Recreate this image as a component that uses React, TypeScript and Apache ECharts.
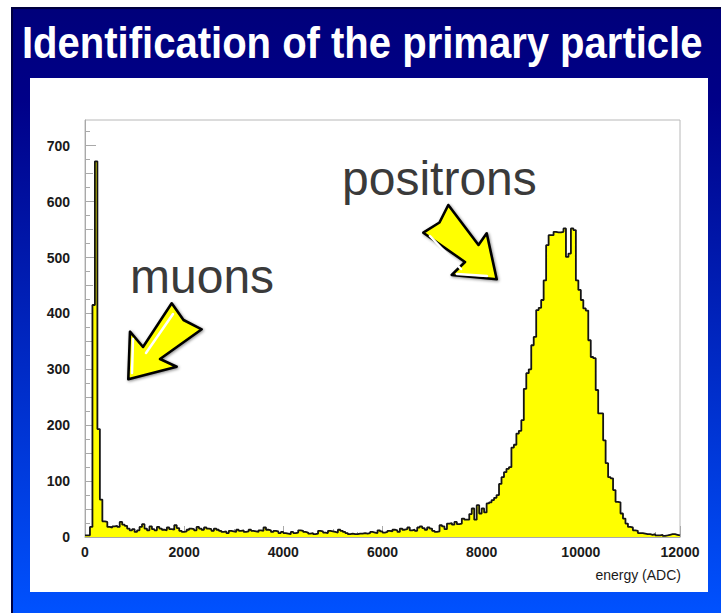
import React, { useEffect, useRef } from "react";
import * as echarts from "echarts";

// ---------------- data ----------------
const binWidth = 50; // ADC per bin
const counts: number[] = [
  3, 3, 18, 415, 672, 193, 67, 28, 27, 18, 17, 19, 20, 18, 27, 22, 20, 15, 12, 14,
  9, 12, 18, 23, 15, 12, 19, 14, 12, 18, 15, 13, 12, 17, 14, 13, 21, 16, 11, 9,
  10, 13, 15, 14, 12, 18, 15, 13, 17, 15, 14, 11, 15, 13, 11, 9, 10, 7, 11, 10,
  9, 13, 11, 12, 9, 10, 13, 11, 10, 9, 12, 11, 17, 13, 12, 9, 11, 10, 7, 9,
  7, 6, 5, 9, 7, 8, 12, 11, 9, 8, 6, 7, 5, 6, 11, 10, 8, 7, 11, 10,
  9, 8, 13, 11, 9, 7, 5, 6, 5, 5, 6, 6, 7, 6, 7, 9, 8, 7, 12, 10,
  8, 9, 11, 10, 13, 12, 9, 15, 13, 14, 17, 12, 13, 11, 17, 19, 16, 13, 17, 15,
  11, 9, 10, 21, 19, 14, 24, 25, 22, 27, 23, 24, 33, 31, 31, 41, 51, 31, 57, 42,
  51, 44, 60, 62, 66, 70, 75, 95, 107, 116, 122, 125, 160, 165, 185, 190, 209, 265, 293, 300,
  343, 358, 406, 410, 424, 459, 522, 540, 540, 546, 545, 545, 546, 552, 501, 507, 552, 549, 459, 442,
  424, 409, 405, 352, 322, 320, 263, 221, 221, 173, 132, 107, 105, 84, 63, 62, 42, 33, 24, 18,
  17, 12, 11, 7, 7, 6, 5, 5, 4, 5, 3, 3, 4, 2, 3, 4, 5, 5, 4, 3,
];

const xMin = 0;
const xMax = 12000;
const yMin = 0;
const yMax = 746;
const xMajorStep = 2000;
const xMidStep = 1000;
const xMinorStep = 500;
const yMajorTicks = [0, 100, 200, 300, 400, 500, 600, 700];
const yMidTicks = [50, 150, 250, 350, 450, 550, 650];
const yMinorTicks = [25, 75, 125, 175, 225, 275, 325, 375, 425, 475, 525, 575, 625, 675, 725];

const titleText = "Identification of the primary particle";
const xAxisTitle = "energy (ADC)";
const muonLabel = "muons";
const positronLabel = "positrons";

const FONT = '"Liberation Sans", Arial, Helvetica, sans-serif';
const TICK_COLOR = "#a9a9a9";

export default function App() {
  const ref = useRef<HTMLDivElement>(null);

  useEffect(() => {
    document.body.style.margin = "0";
    if (!ref.current) return;
    const chart = echarts.init(ref.current, undefined, { renderer: "svg" });

    const histData: number[][] = counts.map((v, i) => [i * binWidth, v]);
    histData.push([counts.length * binWidth, counts[counts.length - 1]]);

    const tickLabelStyle = {
      fontFamily: FONT,
      fontWeight: "bold" as const,
      fontSize: 14,
      color: "#1a1a1a",
      formatter: (v: number) => String(v),
    };

    const arrowStyle = {
      fill: "#ffff00",
      stroke: "#000",
      lineWidth: 2.6,
      lineJoin: "round",
      shadowBlur: 3,
      shadowColor: "rgba(0,0,0,0.45)",
      shadowOffsetX: 1,
      shadowOffsetY: 1,
    };
    const highlightStyle = { stroke: "#ffffff", lineWidth: 2.5, lineCap: "round", fill: null };

    const xAxisBase = {
      type: "value" as const,
      gridIndex: 0,
      min: xMin,
      max: xMax,
      position: "bottom" as const,
      splitLine: { show: false },
    };
    const yAxisBase = {
      type: "value" as const,
      gridIndex: 0,
      min: yMin,
      max: yMax,
      position: "left" as const,
      splitLine: { show: false },
    };

    chart.setOption({
      animation: false,
      backgroundColor: "#ffffff",
      grid: {
        left: 85,
        top: 120,
        right: 41,
        bottom: 76,
        show: true,
        borderColor: "#b8b8b8",
        borderWidth: 1,
        backgroundColor: "transparent",
      },
      xAxis: [
        {
          ...xAxisBase,
          interval: xMajorStep,
          axisLine: { show: true, lineStyle: { color: TICK_COLOR, width: 1 } },
          axisTick: { show: true, inside: true, length: 11, lineStyle: { color: TICK_COLOR } },
          axisLabel: { ...tickLabelStyle, margin: 8 },
        },
        {
          ...xAxisBase,
          interval: xMidStep,
          axisLine: { show: false },
          axisTick: { show: true, inside: true, length: 8, lineStyle: { color: TICK_COLOR } },
          axisLabel: { show: false },
        },
        {
          ...xAxisBase,
          interval: xMinorStep,
          axisLine: { show: false },
          axisTick: { show: true, inside: true, length: 5, lineStyle: { color: TICK_COLOR } },
          axisLabel: { show: false },
        },
      ],
      yAxis: [
        {
          ...yAxisBase,
          axisLine: { show: true, lineStyle: { color: TICK_COLOR, width: 1 } },
          axisTick: {
            show: true,
            inside: true,
            length: 11,
            customValues: yMajorTicks,
            lineStyle: { color: TICK_COLOR },
          },
          axisLabel: { ...tickLabelStyle, margin: 15, customValues: yMajorTicks },
        },
        {
          ...yAxisBase,
          axisLine: { show: false },
          axisTick: {
            show: true,
            inside: true,
            length: 8,
            customValues: yMidTicks,
            lineStyle: { color: TICK_COLOR },
          },
          axisLabel: { show: false },
        },
        {
          ...yAxisBase,
          axisLine: { show: false },
          axisTick: {
            show: true,
            inside: true,
            length: 5,
            customValues: yMinorTicks,
            lineStyle: { color: TICK_COLOR },
          },
          axisLabel: { show: false },
        },
      ],
      series: [
        {
          type: "line",
          xAxisIndex: 0,
          yAxisIndex: 0,
          data: histData,
          step: "end",
          symbol: "none",
          lineStyle: { color: "#151515", width: 1.8 },
          areaStyle: { color: "#ffff00", opacity: 1 },
          z: 3,
        },
      ],
      graphic: [
        {
          type: "rect",
          z: -20,
          silent: true,
          shape: { x: 12, y: 8, width: 712, height: 608 },
          style: {
            fill: new echarts.graphic.LinearGradient(0, 0, 0, 1, [
              { offset: 0, color: "#00007a" },
              { offset: 0.15, color: "#000088" },
              { offset: 1, color: "#0052ff" },
            ]),
            stroke: "#000040",
            lineWidth: 2,
          },
        },
        {
          type: "rect",
          z: -19,
          silent: true,
          shape: { x: 30, y: 78, width: 678, height: 514 },
          style: { fill: "#ffffff" },
        },
        {
          type: "text",
          z: 50,
          x: 22,
          y: 43,
          scaleX: 0.91,
          style: {
            text: titleText,
            fill: "#ffffff",
            font: `bold 44px ${FONT}`,
            textAlign: "left",
            textVerticalAlign: "middle",
          },
        },
        {
          type: "text",
          z: 50,
          x: 130,
          y: 276,
          style: {
            text: muonLabel,
            fill: "#3a3a3a",
            font: `48px ${FONT}`,
            textAlign: "left",
            textVerticalAlign: "middle",
          },
        },
        {
          type: "text",
          z: 50,
          x: 342,
          y: 178,
          style: {
            text: positronLabel,
            fill: "#3a3a3a",
            font: `48px ${FONT}`,
            textAlign: "left",
            textVerticalAlign: "middle",
          },
        },
        {
          type: "text",
          z: 50,
          x: 681,
          y: 575,
          style: {
            text: xAxisTitle,
            fill: "#1a1a1a",
            font: `14px ${FONT}`,
            textAlign: "right",
            textVerticalAlign: "middle",
          },
        },
        {
          type: "polygon",
          z: 60,
          shape: {
            points: [
              [171.7, 303.3],
              [143, 347],
              [130, 331.7],
              [128.3, 379.3],
              [176.7, 366.7],
              [160, 359],
              [201.7, 329.3],
              [183.5, 320],
            ],
          },
          style: arrowStyle,
        },
        {
          type: "polyline",
          z: 61,
          shape: { points: [[173, 314], [146, 353]] },
          style: highlightStyle,
        },
        {
          type: "polyline",
          z: 61,
          shape: { points: [[133, 339], [132, 373]] },
          style: highlightStyle,
        },
        {
          type: "polygon",
          z: 60,
          shape: {
            points: [
              [448.3, 205],
              [478.5, 245],
              [486.7, 233.3],
              [496.7, 279.3],
              [451.7, 275],
              [465, 262],
              [423.3, 232.7],
              [439.5, 222.5],
            ],
          },
          style: arrowStyle,
        },
        {
          type: "polyline",
          z: 61,
          shape: { points: [[430, 236], [461, 269]] },
          style: highlightStyle,
        },
        {
          type: "polyline",
          z: 61,
          shape: { points: [[457, 274], [487, 276]] },
          style: highlightStyle,
        },
      ],
    });

    return () => chart.dispose();
  }, []);

  return <div ref={ref} style={{ width: 721, height: 613 }} />;
}
